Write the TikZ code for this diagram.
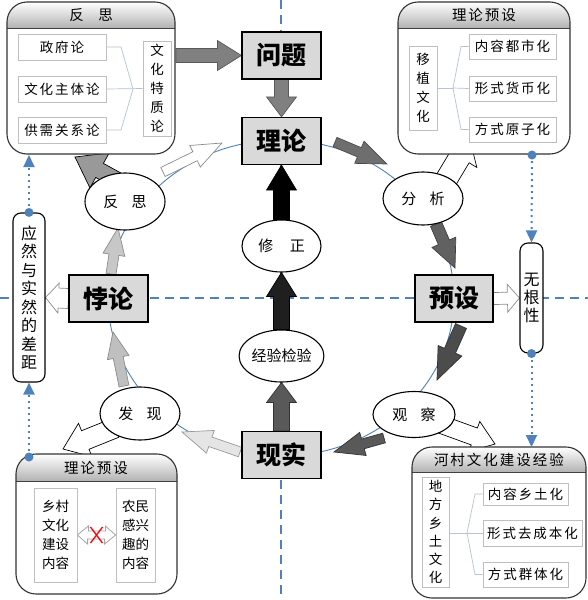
\documentclass[tikz,border=0pt]{standalone}
\usepackage{fontspec}
\setmainfont{Noto Sans CJK SC}
\usetikzlibrary{arrows.meta,calc,shapes.geometric}
\pgfdeclarelayer{bg}
\pgfsetlayers{bg,main}
\definecolor{dblue}{HTML}{4F81BD}
\definecolor{boxgray}{HTML}{D9D9D9}
\definecolor{lgray}{HTML}{BFBFBF}
\definecolor{brk}{HTML}{B4C3D6}
\def\lsp#1{\lspi#1\relax}
\def\lspi#1{\ifx#1\relax\unkern\else#1\kern2pt\expandafter\lspi\fi}
\newcommand\blockarrow[6][]{%
  \path (#2) coordinate (baA) (#3) coordinate (baB);%
  \pgfpointdiff{\pgfpointanchor{baA}{center}}{\pgfpointanchor{baB}{center}}%
  \pgfgetlastxy{\badx}{\bady}%
  \pgfmathsetmacro\baang{atan2(\bady,\badx)}%
  \pgfmathsetmacro\balen{veclen(\badx,\bady)}%
  \pgfmathsetmacro\babase{\balen-#6}%
  \begin{scope}[shift={(baA)},rotate=\baang]
    \filldraw[line width=0.7pt,line join=miter,#1] (0pt,-#4pt) -- (\babase pt,-#4pt) -- (\babase pt,-#5pt) -- (\balen pt,0pt) -- (\babase pt,#5pt) -- (\babase pt,#4pt) -- (0pt,#4pt) -- cycle;
  \end{scope}}
\newcommand\panel[6]{%
  \fill[white,rounded corners=20pt] (#2,#3) rectangle (#4,#5);
  \begin{scope}
    \clip[rounded corners=20pt] (#2,#3) rectangle (#4,#5);
    \shade[top color=white, bottom color=black!30] (#2,#3) rectangle (#4,#6);
  \end{scope}
  \draw[line width=0.9pt, black!75] (#2,#6) -- (#4,#6);
  \draw[line width=1.1pt, black!80, rounded corners=20pt] (#2,#3) rectangle (#4,#5);
  \path (#2,#3) coordinate (#1-nw) (#4,#5) coordinate (#1-se);}
\tikzset{
  mainbox/.style={draw=black, line width=1.2pt, fill=boxgray, minimum width=79pt, minimum height=47pt, inner sep=0pt, font=\fontsize{25}{25}\selectfont\bfseries},
  stage/.style={ellipse, draw=black, line width=1.1pt, fill=white, minimum width=80pt, minimum height=53pt, inner sep=0pt, font=\fontsize{15}{15}\selectfont},
  sidebox/.style={draw=black, rounded corners=8pt, line width=1.1pt, fill=white, inner sep=0pt, align=center},
  itembox/.style={draw=lgray, line width=0.8pt, fill=white, inner sep=0pt, font=\fontsize{13.5}{13.5}\selectfont},
  vbox/.style={draw=lgray, line width=0.8pt, fill=white, inner sep=0pt, align=center, font=\fontsize{13.5}{19}\selectfont},
  paneltitle/.style={font=\fontsize{14.5}{14.5}\selectfont},
  bracketline/.style={draw=brk, line width=0.7pt},
  dotline/.style={draw=dblue, line width=2pt, dash pattern=on 2pt off 4pt},
  dashline/.style={draw=dblue, line width=1.4pt, dash pattern=on 9pt off 6pt},
  cycleline/.style={draw=dblue, line width=0.9pt},
  bluetip/.style={-{Triangle[width=11pt,length=12pt]}, shorten >=0pt},
}
\begin{document}
\begin{tikzpicture}[x=1pt,y=-1pt]
\useasboundingbox (0,0) rectangle (588,600);
% central boxes
\node[mainbox] (wenti) at (281.5,55.5) {问题};
\node[mainbox] (lilun) at (281.5,141) {理论};
\node[mainbox] (xianshi) at (281.5,455) {现实};
\node[mainbox] (beilun) at (108.5,298.5) {悖论};
\node[mainbox, minimum width=78pt] (yushe) at (454,298.5) {预设};
% ellipses
\node[stage, minimum width=79pt, minimum height=52pt] (xiuzheng) at (281.5,246) {修\hspace{1.1em}正};
\node[stage, minimum width=79pt, minimum height=52pt] (jianyan) at (281.5,356) {经验检验};
\node[stage, minimum height=57pt] (fansi) at (125,201.5) {反\hspace{0.9em}思};
\node[stage] (fenxi) at (423,198.5) {分\hspace{0.9em}析};
\node[stage] (faxian) at (140,413.5) {发\hspace{0.9em}现};
\node[stage, minimum width=82pt, minimum height=46pt] (guancha) at (414,414.5) {观\hspace{0.9em}察};
% side boxes
\node[sidebox, minimum width=32pt, minimum height=169pt, font=\fontsize{16}{18.5}\selectfont] (gap) at (29,297.5) {应\\然\\与\\实\\然\\的\\差\\距};
\node[sidebox, minimum width=23pt, minimum height=110pt, font=\fontsize{16}{18}\selectfont] (wugen) at (531.5,298) {无\\根\\性};
% top-left panel
\panel{tl}{7}{2}{175}{154}{28}
\node[paneltitle] (tltitle) at (91,15) {反\hspace{1em}思};
\node[itembox, minimum width=88pt, minimum height=26pt] (zf) at (62,47) {\lsp{政府论}};
\node[itembox, minimum width=88pt, minimum height=26pt] (wh) at (62,89) {\lsp{文化主体论}};
\node[itembox, minimum width=88pt, minimum height=26pt] (gx) at (62,130) {\lsp{供需关系论}};
\node[vbox, minimum width=28pt, minimum height=95pt] (tz) at (157,88.5) {文\\化\\特\\质\\论};
\coordinate (tlj) at (133,89);
\draw[bracketline] (zf.east) -- (121,47) -- (tlj);
\draw[bracketline] (gx.east) -- (121,130) -- (tlj);
\draw[bracketline] (wh.east) -- (tz.west);
% top-right panel
\panel{tr}{398}{2}{570}{154}{28}
\node[paneltitle] (trtitle) at (484,15) {\lsp{理论预设}};
\node[vbox, minimum width=28pt, minimum height=84pt] (yz) at (423,88) {移\\植\\文\\化};
\node[itembox, minimum width=87pt, minimum height=25pt] (nr) at (512.5,46.5) {\lsp{内容都市化}};
\node[itembox, minimum width=87pt, minimum height=25pt] (xs) at (512.5,88.5) {\lsp{形式货币化}};
\node[itembox, minimum width=87pt, minimum height=25pt] (fs) at (512.5,129.5) {\lsp{方式原子化}};
\coordinate (trj) at (453,88);
\draw[bracketline] (yz.east) -- (trj);
\draw[bracketline] (trj) -- (461,46.5) -- (nr.west);
\draw[bracketline] (trj) -- (xs.west);
\draw[bracketline] (trj) -- (461,129.5) -- (fs.west);
% bottom-left panel
\panel{bl}{16}{454}{177}{594}{481}
\node[paneltitle] (bltitle) at (96,467.5) {\lsp{理论预设}};
\node[vbox, minimum width=43pt, minimum height=94pt] (xc) at (55.5,535) {乡村\\文化\\建设\\内容};
\node[vbox, minimum width=39pt, minimum height=94pt] (nm) at (135.5,535) {农民\\感兴\\趣的\\内容};
\filldraw[fill=white, draw=black!35, line width=0.8pt] (xc.east) -- ++(11,-9) -- ++(0,5) -- ++(17,0) -- ++(0,-5) -- (nm.west) -- ++(-11,9) -- ++(0,-5) -- ++(-17,0) -- ++(0,5) -- cycle;
\coordinate (xmark) at ($(xc.east)!0.5!(nm.west)$);
\draw[red, line width=1.3pt] ($(xmark)+(-6,-8)$) -- ($(xmark)+(6,8)$) ($(xmark)+(6,-8)$) -- ($(xmark)+(-6,8)$);
% bottom-right panel
\panel{br}{412}{447}{586}{598}{472}
\node[paneltitle] (brtitle) at (499,459.5) {\lsp{河村文化建设经验}};
\node[vbox, minimum width=27pt, minimum height=110pt, font=\fontsize{13.5}{18.2}\selectfont] (df) at (435.5,532) {地\\方\\乡\\土\\文\\化};
\node[itembox, minimum width=85pt, minimum height=22pt] (ir1) at (525.5,494) {\lsp{内容乡土化}};
\node[itembox, minimum width=99pt, minimum height=26pt] (ir2) at (532.5,533) {\lsp{形式去成本化}};
\node[itembox, minimum width=85pt, minimum height=25pt] (ir3) at (525.5,574.5) {\lsp{方式群体化}};
\coordinate (brj) at (467,533);
\draw[bracketline] (df.east |- brj) -- (brj);
\draw[bracketline] (brj) -- (475,494) -- (ir1.west);
\draw[bracketline] (brj) -- (ir2.west);
\draw[bracketline] (brj) -- (475,574.5) -- (ir3.west);
% dotted links
\coordinate (tlin) at (29,155);
\coordinate (blout) at (29,457);
\coordinate (trout) at (532,155);
\coordinate (brin) at (531.5,447);
\draw[dotline, bluetip] (gap.north) -- (tlin);
\draw[dotline, bluetip] (blout) -- (gap.south);
\draw[dotline, bluetip] (trout) -- (wugen.north);
\draw[dotline, bluetip] (wugen.south) -- (brin);
\fill[dblue] (gap.north) circle (4.5);
\fill[dblue] (blout) circle (4.5);
\fill[dblue] (trout) circle (4.5);
\fill[dblue] (wugen.south) circle (4.5);
% background: guides, cycle, block arrows
\begin{pgfonlayer}{bg}
\draw[dashline] (281,0) -- (281,600);
\draw[dashline] (0,298) -- (588,298);
\draw[cycleline] (281,298) ellipse [x radius=173, y radius=158];
\blockarrow[fill=black!50, draw=black!65]{176,55.5}{wenti.west}{7}{15}{24}
\blockarrow[fill=black!50, draw=black!65]{wenti.south}{lilun.north}{7}{15}{20}
\blockarrow[fill=black, draw=black]{xiuzheng.north}{lilun.south}{8}{15}{25}
\blockarrow[fill=black!88, draw=black]{jianyan.north}{xiuzheng.south}{8}{15}{24}
\blockarrow[fill=black!65, draw=black!80]{xianshi.north}{jianyan.south}{8}{15}{20}
\blockarrow[fill=black!57, draw=black!70]{335,142}{387,164}{5}{12}{30}
\blockarrow[fill=black!62, draw=black!75]{436,224}{455,268}{6}{13}{28}
\blockarrow[fill=black!70, draw=black!80]{461,326}{437,380}{6}{13}{32}
\blockarrow[fill=black!65, draw=black!80]{384,438}{334,452}{5}{12}{30}
\blockarrow[fill=black!10, draw=black!40]{240,452}{182,432}{5}{12}{30}
\blockarrow[fill=black!25, draw=black!45]{124,386}{113,332}{5}{11}{26}
\blockarrow[fill=black!22, draw=black!45]{111,274}{118,228}{5}{11}{27}
\blockarrow[fill=white, draw=black!45]{163,172}{222,143}{5}{12}{30}
\blockarrow[fill=black!40, draw=black]{128,186}{75,157}{8}{20}{28}
\blockarrow[fill=white, draw=black]{440,190}{470,140}{11}{20}{20}
\blockarrow[fill=white, draw=black]{115,428}{63,449}{10}{18}{24}
\blockarrow[fill=white, draw=black]{440,424}{495,444}{9}{16}{22}
\blockarrow[fill=white, draw=black!45]{beilun.west}{gap.east}{10}{15}{13}
\blockarrow[fill=white, draw=black!45]{yushe.east}{wugen.west}{6}{14}{12}
\end{pgfonlayer}
\end{tikzpicture}
\end{document}
